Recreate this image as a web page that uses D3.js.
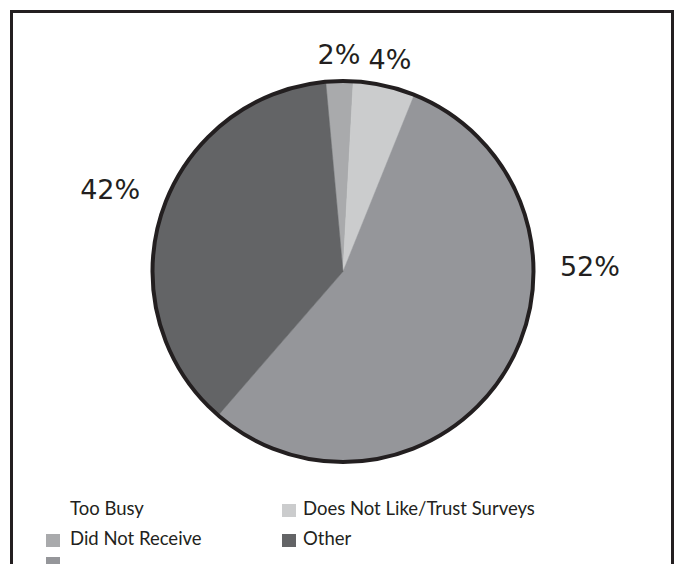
<!DOCTYPE html>
<html>
<head>
<meta charset="utf-8">
<script src="https://cdn.jsdelivr.net/npm/d3@7"></script>
<style>
  html, body { margin: 0; padding: 0; background: #fff; }
  svg { display: block; font-family: Lato, "Liberation Sans", sans-serif; }
</style>
</head>
<body>
<svg id="chart" width="675" height="564"></svg>
<script>
(function () {
  "use strict";

  // data, in legend order
  var categories = ["Too Busy", "Does Not Like/Trust Surveys", "Did Not Receive", "Other", ""];
  var values = [0, 5.25, 2.3, 37.2, 55.3];
  var valueLabels = ["", "4%", "2%", "42%", "52%"];
  var colors = ["#ffffff", "#cbcccd", "#a9aaac", "#636466", "#95969a"];

  // clockwise order of slices, starting just left of 12 o'clock
  var pieOrder = ["Did Not Receive", "Does Not Like/Trust Surveys", "", "Other"];

  var W = 675, H = 564;
  var cx = 343, cy = 271.5, radius = 190.5;
  var ink = "#231f20";

  var svg = d3.select("#chart");

  // frame, open at the bottom
  svg.append("path")
      .attr("d", "M11.5," + (H + 5) + "V11.5H672.5V" + (H + 5))
      .attr("fill", "none")
      .attr("stroke", ink)
      .attr("stroke-width", 3);

  var rows = categories.map(function (c, i) {
    return { name: c, value: values[i], label: valueLabels[i], color: colors[i] };
  });
  var byName = {};
  rows.forEach(function (r) { byName[r.name] = r; });
  var slices = pieOrder.map(function (n) { return byName[n]; });

  var deg = Math.PI / 180;
  var pie = d3.pie()
      .sort(null)
      .value(function (d) { return d.value; })
      .startAngle(-5.2 * deg)
      .endAngle(354.8 * deg);

  var arc = d3.arc().innerRadius(0).outerRadius(radius);

  var g = svg.append("g").attr("transform", "translate(" + cx + "," + cy + ")");
  var arcs = pie(slices);

  g.selectAll("path.slice")
      .data(arcs)
    .enter().append("path")
      .attr("class", "slice")
      .attr("d", arc)
      .attr("fill", function (d) { return d.data.color; })
      .attr("stroke", function (d) { return d.data.color; })
      .attr("stroke-width", 0.5);

  g.append("circle")
      .attr("r", radius)
      .attr("fill", "none")
      .attr("stroke", ink)
      .attr("stroke-width", 4);

  // value labels: outside the rim, big slices placed by hand-picked angles
  var labelAngle = { "": 88.7 * deg, "Other": 289.5 * deg };
  g.selectAll("text.pct")
      .data(arcs)
    .enter().append("text")
      .attr("class", "pct")
      .each(function (d) {
        var big = d.data.value > 20;
        var r = big ? 247 : 217;
        var a = labelAngle[d.data.name] !== undefined ? labelAngle[d.data.name] : (d.startAngle + d.endAngle) / 2;
        d3.select(this)
            .attr("x", Math.sin(a) * r)
            .attr("y", -Math.cos(a) * r);
      })
      .attr("dy", "0.36em")
      .attr("text-anchor", "middle")
      .attr("font-family", "'DejaVu Sans', sans-serif")
      .attr("font-size", 27)
      .attr("fill", ink)
      .text(function (d) { return d.data.label; });

  // legend, two columns, row by row
  var colX = [46, 282], rowY = [515, 545, 568], sw = 14;
  var legend = svg.selectAll("g.legend")
      .data(rows)
    .enter().append("g")
      .attr("class", "legend")
      .attr("transform", function (d, i) {
        return "translate(" + colX[i % 2] + "," + rowY[Math.floor(i / 2)] + ")";
      });

  legend.append("rect")
      .attr("width", sw)
      .attr("height", sw - 1)
      .attr("y", -11)
      .attr("fill", function (d) { return d.color; });

  legend.append("text")
      .attr("x", function (d, i) { return i % 2 ? 21 : 24; })
      .attr("font-size", 18.5)
      .attr("fill", ink)
      .text(function (d) { return d.name; });
}());
</script>
</body>
</html>
